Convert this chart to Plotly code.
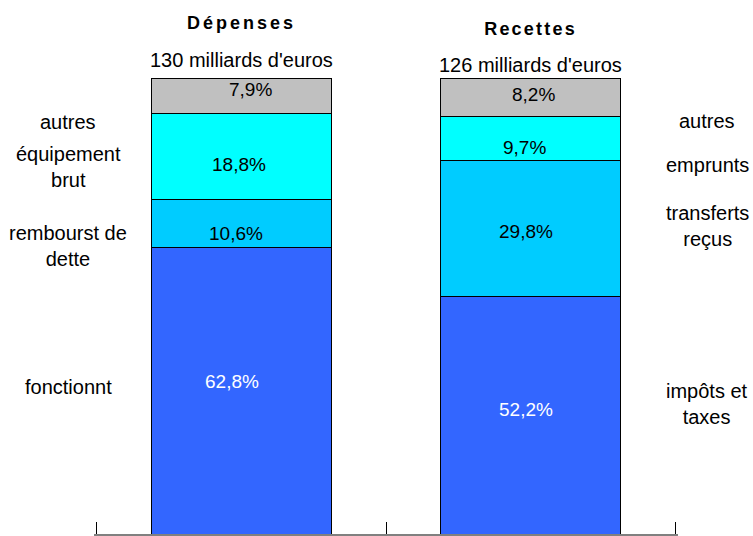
import plotly.graph_objects as go

# Données
groupes = ['Dépenses', 'Recettes']
totaux = ["130 milliards d'euros", "126 milliards d'euros"]

segments = ['bas', 'deuxieme', 'troisieme', 'autres']
parts_depenses = [62.8, 10.6, 18.8, 7.9]
parts_recettes = [52.2, 29.8, 9.7, 8.2]

labels_depenses = ['fonctionnt', 'rembourst de<br>dette', 'équipement<br>brut', 'autres']
labels_recettes = ['impôts et<br>taxes', 'transferts<br>reçus', 'emprunts', 'autres']

couleurs = ['#3366FF', '#00CCFF', '#00FFFF', '#C0C0C0']
couleurs_texte = ['white', 'black', 'black', 'black']

# décalages (px) des pourcentages par rapport au centre du segment
decal_x = [[-9, -5.5, -2, 9.5], [-5, -5, -6, 2.5]]
decal_y = [[9, -10, -8, 6], [5.5, -3, -9, 3.5]]

FONT = 'Liberation Sans, Arial, sans-serif'

fig = go.Figure()
for i, seg in enumerate(segments):
    fig.add_trace(go.Bar(
        x=groupes,
        y=[parts_depenses[i], parts_recettes[i]],
        name=seg,
        marker=dict(color=couleurs[i], line=dict(color='black', width=1)),
        hoverinfo='skip',
    ))

# pourcentages dans les barres
for g, parts, dx, dy in zip(groupes, [parts_depenses, parts_recettes], decal_x, decal_y):
    base = 0
    for i, v in enumerate(parts):
        fig.add_annotation(x=g, xref='x', y=base + v / 2, yref='y',
                           text=f'{v:.1f}%'.replace('.', ','), showarrow=False,
                           xshift=dx[i], yshift=dy[i], yanchor='middle',
                           font=dict(family=FONT, size=19, color=couleurs_texte[i]))
        base += v

# Titres au-dessus des barres
titre_y = [23, 29]
sous_titre_y = [60, 65]
for g, t, ty, sy in zip(groupes, totaux, titre_y, sous_titre_y):
    fig.add_annotation(x=g, xref='x', y=(534 - ty) / 456, yref='paper',
                       text=f'<b>{g}</b>', showarrow=False, yanchor='middle',
                       font=dict(family=FONT, size=18, color='black'))
    fig.add_annotation(x=g, xref='x', y=(534 - sy) / 456, yref='paper',
                       text=t, showarrow=False, yanchor='middle',
                       font=dict(family=FONT, size=20, color='black'))

# Étiquettes latérales
pos_gauche = [387, 246, 167, 122]
pos_droite = [404, 226, 165, 121]
for lab, py in zip(labels_depenses, pos_gauche):
    fig.add_annotation(x=(68 - 94) / 584, xref='paper', y=(534 - py) / 456, yref='paper',
                       text=lab, showarrow=False, yanchor='middle', xanchor='center',
                       font=dict(family=FONT, size=20, color='black'))
for lab, py in zip(labels_recettes, pos_droite):
    fig.add_annotation(x=(707 - 94) / 584, xref='paper', y=(534 - py) / 456, yref='paper',
                       text=lab, showarrow=False, yanchor='middle', xanchor='center',
                       font=dict(family=FONT, size=20, color='black'))

fig.update_layout(
    width=753, height=536,
    barmode='stack',
    bargap=0.377,
    showlegend=False,
    plot_bgcolor='white',
    paper_bgcolor='white',
    margin=dict(l=94, r=75, t=78, b=2),
    xaxis=dict(
        range=[-0.51, 1.51],
        showline=True, linecolor='#808080', linewidth=1.5,
        ticks='inside', tickson='boundaries', ticklen=12, tickcolor='black', tickwidth=1,
        showticklabels=False, showgrid=False, zeroline=False,
    ),
    yaxis=dict(range=[0, 100.1], visible=False),
)

# pas de marge autour de la page, titres espacés
js = """
document.body.style.margin = '0';
document.querySelectorAll('.annotation-text').forEach(function (el) {
    var t = el.textContent;
    if (t === 'Dépenses') { el.style.letterSpacing = '3px'; }
    if (t === 'Recettes') { el.style.letterSpacing = '2.2px'; }
});
"""
fig.write_html("out.html", post_script=js, config={'displayModeBar': False})
